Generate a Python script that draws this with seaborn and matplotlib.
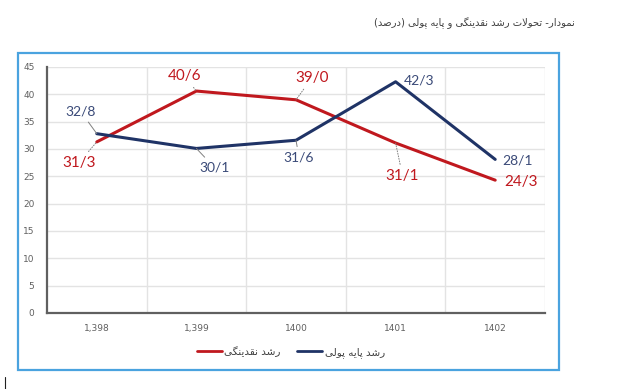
import pandas as pd
import seaborn as sns
import matplotlib.pyplot as plt
from matplotlib.patches import Rectangle
from matplotlib.lines import Line2D

# data
years = ['1,398', '1,399', '1400', '1401', '1402']
liquidity = [31.3, 40.6, 39.0, 31.1, 24.3]
monetary_base = [32.8, 30.1, 31.6, 42.3, 28.1]
liquidity_labels = ['31/3', '40/6', '39/0', '31/1', '24/3']
base_labels = ['32/8', '30/1', '31/6', '42/3', '28/1']
name_liq = 'رشد نقدینگی'
name_base = 'رشد پایه پولی'
title = 'نمودار- تحولات رشد نقدینگی و پایه پولی (درصد)'

# minimal persian shaping (matplotlib has no text shaping)
FORMS = {
    'ا': ('\uFE8D', '\uFE8E'), 'د': ('\uFEA9', '\uFEAA'), 'ر': ('\uFEAD', '\uFEAE'),
    'و': ('\uFEED', '\uFEEE'),
    'ت': ('\uFE95', '\uFE96', '\uFE97', '\uFE98'), 'ح': ('\uFEA1', '\uFEA2', '\uFEA3', '\uFEA4'),
    'ل': ('\uFEDD', '\uFEDE', '\uFEDF', '\uFEE0'), 'ش': ('\uFEB5', '\uFEB6', '\uFEB7', '\uFEB8'),
    'ص': ('\uFEB9', '\uFEBA', '\uFEBB', '\uFEBC'), 'ق': ('\uFED5', '\uFED6', '\uFED7', '\uFED8'),
    'ن': ('\uFEE5', '\uFEE6', '\uFEE7', '\uFEE8'), 'م': ('\uFEE1', '\uFEE2', '\uFEE3', '\uFEE4'),
    'ه': ('\uFEE9', '\uFEEA', '\uFEEB', '\uFEEC'), 'ی': ('\uFBFC', '\uFBFD', '\uFBFE', '\uFBFF'),
    'گ': ('\uFB92', '\uFB93', '\uFB94', '\uFB95'), 'پ': ('\uFB56', '\uFB57', '\uFB58', '\uFB59'),
}


def dual(c):
    return c in FORMS and len(FORMS[c]) == 4


def fa(text):
    res = []
    i = 0
    n = len(text)
    while i < n:
        c = text[i]
        prev = text[i - 1] if i > 0 else None
        nxt = text[i + 1] if i < n - 1 else None
        r = prev is not None and dual(prev)
        if c not in FORMS:
            res.append(c)
        elif c == 'ل' and nxt == 'ا':
            res.append('\uFEFC' if r else '\uFEFB')
            i += 1
        else:
            f = FORMS[c]
            l = dual(c) and nxt in FORMS
            if r and l:
                res.append(f[3])
            elif r:
                res.append(f[1])
            elif l:
                res.append(f[2])
            else:
                res.append(f[0])
        i += 1
    vis = ''.join(reversed(res))
    return vis.translate(str.maketrans('()', ')('))


sns.set_theme(style='white')
plt.rcParams['font.family'] = ['DejaVu Sans']

RED = '#C0181E'
BLUE = '#1F3366'

df = pd.DataFrame({
    'year': years * 2,
    'value': liquidity + monetary_base,
    'series': [name_liq] * 5 + [name_base] * 5,
})

fig = plt.figure(figsize=(6.21, 3.89), dpi=100)
ax = fig.add_axes([47 / 621, 76 / 389, 498 / 621, 246 / 389])
sns.lineplot(data=df, x='year', y='value', hue='series', palette=[RED, BLUE],
             linewidth=2.2, ax=ax, legend=False)

ax.set_xlim(-0.5, 4.5)
ax.set_ylim(0, 45)
ax.set_yticks(range(0, 50, 5))
ax.set_xticks(range(5))
ax.set_xticklabels(years)
ax.set_xticks([0.5, 1.5, 2.5, 3.5, 4.5], minor=True)
ax.grid(axis='y', which='major', color='#e3e3e3', lw=1)
ax.grid(axis='x', which='minor', color='#e3e3e3', lw=1)
ax.set_axisbelow(True)
ax.tick_params(axis='both', which='both', length=0, labelsize=6.5, labelcolor='#606060')
ax.tick_params(axis='y', pad=9)
ax.tick_params(axis='x', pad=8)
ax.set_xlabel('')
ax.set_ylabel('')
for s in ['top', 'right']:
    ax.spines[s].set_visible(False)
for s in ['left', 'bottom']:
    ax.spines[s].set_color('#606060')
    ax.spines[s].set_linewidth(1.6)

# data labels
liq_off = [(-18, -21), (-12, 15), (16, 22), (7, -33), (26, -2)]
base_off = [(-16, 22), (18, -19), (3, -17), (23, 1), (22, -1)]
liq_lead = [True, True, True, True, False]
base_lead = [True, True, True, False, False]
for i in range(5):
    ax.annotate(liquidity_labels[i], (i, liquidity[i]), xytext=liq_off[i],
                textcoords='offset pixels', ha='center', va='center',
                fontsize=11, color=RED, family='Lato',
                arrowprops=dict(arrowstyle='-', color='#808080', lw=0.7, ls=':',
                                shrinkA=1, shrinkB=0) if liq_lead[i] else None)
    ax.annotate(base_labels[i], (i, monetary_base[i]), xytext=base_off[i],
                textcoords='offset pixels', ha='center', va='center',
                fontsize=10, color='#3A4A78', family='Lato',
                arrowprops=dict(arrowstyle='-', color='#808080', lw=0.7,
                                shrinkA=1, shrinkB=0) if base_lead[i] else None)

# legend
handles = [Line2D([], [], color=RED, lw=2), Line2D([], [], color=BLUE, lw=2)]
fig.legend(handles, [fa(name_liq), fa(name_base)], loc='center',
           bbox_to_anchor=(291 / 621, 1 - 352 / 389), ncol=2, frameon=False,
           fontsize=7.5, handlelength=2.4, handletextpad=0.2, columnspacing=1.6,
           labelcolor='#404040')

# frame and title
fig.patches.append(Rectangle((18 / 621, 1 - 370 / 389), 541 / 621, 317 / 389,
                             transform=fig.transFigure, fill=False,
                             edgecolor='#4AA3DF', lw=1.6))
fig.text(474 / 621, 1 - 23 / 389, fa(title), ha='center', va='center',
         fontsize=7.2, color='#404040')
fig.lines.append(Line2D([5 / 621, 5 / 621], [0, 12 / 389], transform=fig.transFigure,
                        color='#202020', lw=0.8))

fig.savefig('out.png', dpi=100)
